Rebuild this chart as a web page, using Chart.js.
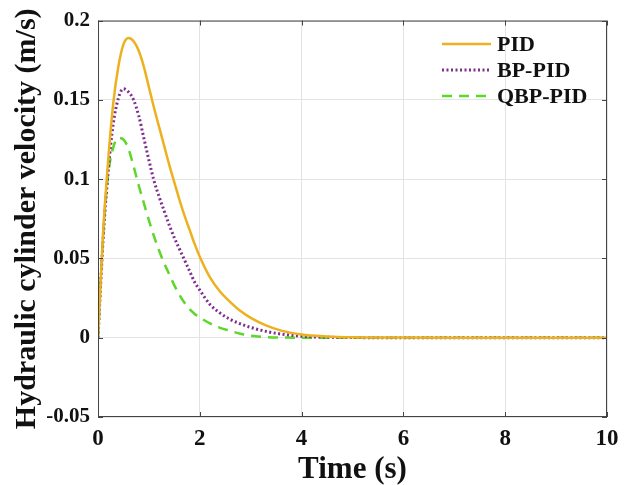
<!DOCTYPE html>
<html>
<head>
<meta charset="utf-8">
<script src="https://cdn.jsdelivr.net/npm/chart.js@4/dist/chart.umd.min.js"></script>
<style>
  html, body { margin: 0; padding: 0; background: #fff; }
  #wrap { width: 628px; height: 485px; }
</style>
</head>
<body>
<div id="wrap"><canvas id="myChart" width="628" height="485"></canvas></div>
<script>
// time samples (s)
const times = [0, 0.1, 0.2, 0.3, 0.4, 0.5, 0.6, 0.7, 0.8, 0.9, 1.0, 1.1, 1.2, 1.3, 1.4, 1.5,
  1.6, 1.7, 1.8, 1.9, 2.0, 2.2, 2.4, 2.6, 2.8, 3.0, 3.3, 3.6, 4.0, 4.5, 5, 6, 7, 8, 9, 10];

// velocity (m/s)
const pid = [0, 0.066, 0.112, 0.148, 0.171, 0.185, 0.189, 0.187, 0.181, 0.171, 0.158, 0.145,
  0.133, 0.121, 0.109, 0.098, 0.087, 0.077, 0.068, 0.059, 0.051, 0.038, 0.029, 0.0225, 0.0168,
  0.0125, 0.0078, 0.0045, 0.002, 0.0008, 0.0003, 0.0001, 0, 0, 0, 0];
const bpPid = [0, 0.062, 0.105, 0.135, 0.151, 0.157, 0.155, 0.15, 0.14, 0.126, 0.112, 0.099,
  0.089, 0.08, 0.071, 0.063, 0.056, 0.049, 0.042, 0.035, 0.03, 0.021, 0.0155, 0.0115, 0.0087,
  0.0065, 0.004, 0.0023, 0.0009, 0.0003, 0.0001, 0, 0, 0, 0, 0];
const qbpPid = [0, 0.064, 0.103, 0.12, 0.126, 0.125, 0.119, 0.108, 0.096, 0.085, 0.074, 0.064,
  0.055, 0.047, 0.04, 0.033, 0.027, 0.022, 0.018, 0.015, 0.0128, 0.009, 0.0062, 0.0043, 0.0025,
  0.0013, 0.0004, 0.0001, 0, 0, 0, 0, 0, 0, 0, 0];

const xTicks = [0, 2, 4, 6, 8, 10];
const yTicks = [-0.05, 0, 0.05, 0.1, 0.15, 0.2];

function toPoints(vals) {
  return vals.map((v, i) => ({ x: times[i], y: v }));
}

const serif = "'Liberation Serif', 'Times New Roman', serif";

// legend drawn inside the plot, top right
const insideLegend = {
  id: "insideLegend",
  afterDraw(chart) {
    const ctx = chart.ctx;
    const x0 = 442, x1 = 491, tx = 497;
    const rows = [44, 70, 96];
    chart.data.datasets.forEach((ds, i) => {
      ctx.save();
      ctx.strokeStyle = ds.borderColor;
      ctx.lineWidth = ds.borderWidth;
      ctx.setLineDash(ds.borderDash || []);
      ctx.beginPath();
      ctx.moveTo(x0, rows[i]);
      ctx.lineTo(x1, rows[i]);
      ctx.stroke();
      ctx.setLineDash([]);
      ctx.fillStyle = "#111";
      ctx.font = "bold 22px " + serif;
      ctx.textBaseline = "middle";
      ctx.fillText(ds.label, tx, rows[i] + 1);
      ctx.restore();
    });
  },
};

// box around the plot with inward ticks
const frame = {
  id: "frame",
  afterDatasetsDraw(chart) {
    const { ctx, chartArea: a, scales } = chart;
    ctx.save();
    ctx.strokeStyle = "#444";
    ctx.lineWidth = 1;
    ctx.strokeRect(a.left + 0.5, a.top + 0.5, a.right - a.left - 1, a.bottom - a.top - 1);
    ctx.beginPath();
    xTicks.forEach((t) => {
      const px = Math.round(scales.x.getPixelForValue(t)) + 0.5;
      ctx.moveTo(px, a.bottom); ctx.lineTo(px, a.bottom - 5);
      ctx.moveTo(px, a.top); ctx.lineTo(px, a.top + 5);
    });
    yTicks.forEach((t) => {
      const py = Math.round(scales.y.getPixelForValue(t)) + 0.5;
      ctx.moveTo(a.left, py); ctx.lineTo(a.left + 5, py);
      ctx.moveTo(a.right, py); ctx.lineTo(a.right - 5, py);
    });
    ctx.stroke();
    ctx.restore();
  },
};

const ctx = document.getElementById("myChart").getContext("2d");

new Chart(ctx, {
  type: "line",
  data: {
    datasets: [
      {
        label: "PID",
        data: toPoints(pid),
        borderColor: "#EDB120",
        borderWidth: 2.5,
        pointRadius: 0,
        cubicInterpolationMode: "monotone",
      },
      {
        label: "BP-PID",
        data: toPoints(bpPid),
        borderColor: "#7E2F8E",
        borderWidth: 3,
        borderDash: [2, 2.5],
        pointRadius: 0,
        cubicInterpolationMode: "monotone",
      },
      {
        label: "QBP-PID",
        data: toPoints(qbpPid),
        borderColor: "#5ED62A",
        borderWidth: 2.5,
        borderDash: [10, 7],
        pointRadius: 0,
        cubicInterpolationMode: "monotone",
      },
    ],
  },
  options: {
    responsive: false,
    animation: false,
    layout: { padding: { top: 18, right: 21, left: 0, bottom: 0 } },
    plugins: {
      legend: { display: false },
      tooltip: { enabled: false },
    },
    scales: {
      x: {
        type: "linear",
        min: 0,
        max: 10,
        afterBuildTicks: (s) => { s.ticks = xTicks.map((v) => ({ value: v })); },
        afterFit: (s) => { s.height = 68; },
        grid: { color: "#e3e3e3", drawTicks: false },
        border: { display: false },
        ticks: {
          padding: 8,
          color: "#111",
          font: { family: serif, size: 23, weight: "bold" },
          maxRotation: 0,
          callback: (v) => String(v),
        },
        title: {
          display: true,
          text: "Time (s)",
          color: "#111",
          padding: { top: 0, bottom: 0 },
          font: { family: serif, size: 31, weight: "bold", lineHeight: 1.0 },
        },
      },
      y: {
        min: -0.05,
        max: 0.2,
        afterBuildTicks: (s) => { s.ticks = yTicks.map((v) => ({ value: v })); },
        afterFit: (s) => { s.width = 98; },
        grid: { color: "#e3e3e3", drawTicks: false },
        border: { display: false },
        ticks: {
          padding: 8,
          color: "#111",
          font: { family: serif, size: 21, weight: "bold" },
          callback: (v) => String(Math.round(v * 100) / 100),
        },
        title: {
          display: true,
          text: "Hydraulic cylinder velocity (m/s)",
          color: "#111",
          padding: { top: 9, bottom: 0 },
          font: { family: serif, size: 30, weight: "bold", lineHeight: 1.2 },
        },
      },
    },
  },
  plugins: [frame, insideLegend],
});
</script>
</body>
</html>
